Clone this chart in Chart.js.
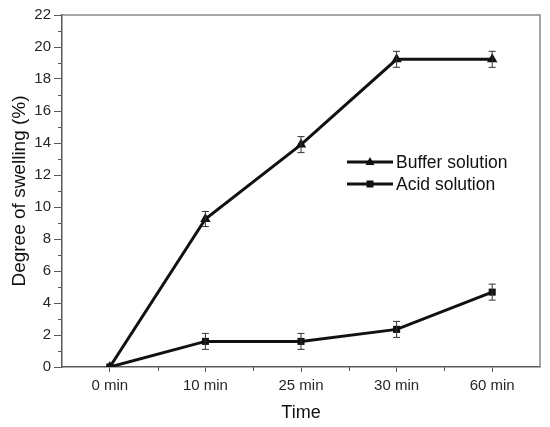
<!DOCTYPE html>
<html>
<head>
<meta charset="utf-8">
<script src="https://cdn.jsdelivr.net/npm/chart.js@4.4.1/dist/chart.umd.min.js"></script>
<style>
    html, body { margin: 0; padding: 0; background: #fff; }
    #wrap { width: 550px; height: 427px; }
</style>
</head>
<body>
<div id="wrap"><canvas id="swellChart" width="550" height="427"></canvas></div>
<script>
// values
const timeLabels = ['0 min', '10 min', '25 min', '30 min', '60 min'];
const bufferValues = [0, 9.25, 13.9, 19.23, 19.23];
const bufferErrors = [0, 0.47, 0.5, 0.5, 0.5];
const acidValues = [0, 1.6, 1.6, 2.35, 4.68];
const acidErrors = [0, 0.5, 0.5, 0.5, 0.5];
const yTicks = [0, 2, 4, 6, 8, 10, 12, 14, 16, 18, 20, 22];

const FONT = '"Liberation Sans", Arial, sans-serif';
const INK = '#111';
const AXIS = '#5a5a5a';

// error bars, frame, minor ticks
const decorPlugin = {
    id: 'decor',
    afterDatasetsDraw(chart) {
        const ctx = chart.ctx;
        const y = chart.scales.y;
        const errs = [bufferErrors, acidErrors];
        ctx.save();
        ctx.strokeStyle = '#333';
        ctx.lineWidth = 1;
        chart.data.datasets.forEach((ds, di) => {
            const meta = chart.getDatasetMeta(di);
            meta.data.forEach((pt, i) => {
                const e = errs[di][i];
                if (!e) return;
                const top = y.getPixelForValue(ds.data[i] + e);
                const bot = y.getPixelForValue(ds.data[i] - e);
                ctx.beginPath();
                ctx.moveTo(pt.x, top); ctx.lineTo(pt.x, bot);
                ctx.moveTo(pt.x - 3.5, top); ctx.lineTo(pt.x + 3.5, top);
                ctx.moveTo(pt.x - 3.5, bot); ctx.lineTo(pt.x + 3.5, bot);
                ctx.stroke();
            });
        });
        ctx.restore();
    },
    afterDraw(chart) {
        const ctx = chart.ctx;
        const a = chart.chartArea;
        const x = chart.scales.x;
        const y = chart.scales.y;
        ctx.save();
        // top and right frame
        ctx.strokeStyle = '#8a8a8a';
        ctx.lineWidth = 1.5;
        ctx.beginPath();
        ctx.moveTo(a.left, a.top);
        ctx.lineTo(a.right, a.top);
        ctx.lineTo(a.right, a.bottom);
        ctx.stroke();
        // minor ticks
        ctx.strokeStyle = AXIS;
        ctx.lineWidth = 1;
        ctx.beginPath();
        for (let v = 1; v < 22; v += 2) {
            const py = Math.round(y.getPixelForValue(v)) + 0.5;
            ctx.moveTo(a.left - 4, py); ctx.lineTo(a.left, py);
        }
        for (let i = 0; i < timeLabels.length - 1; i++) {
            const px = Math.round((x.getPixelForValue(i) + x.getPixelForValue(i + 1)) / 2) + 0.5;
            ctx.moveTo(px, a.bottom); ctx.lineTo(px, a.bottom + 4);
        }
        ctx.stroke();
        // legend inside the plot
        const rows = [
            { label: chart.data.datasets[0].label, style: 'tri', y: a.top + 147 },
            { label: chart.data.datasets[1].label, style: 'sq', y: a.top + 169 }
        ];
        const x0 = a.left + 285, x1 = a.left + 331;
        rows.forEach(r => {
            ctx.strokeStyle = INK;
            ctx.lineWidth = 3;
            ctx.beginPath();
            ctx.moveTo(x0, r.y); ctx.lineTo(x1, r.y);
            ctx.stroke();
            const cx = (x0 + x1) / 2;
            ctx.fillStyle = INK;
            ctx.beginPath();
            if (r.style === 'tri') {
                ctx.moveTo(cx, r.y - 5); ctx.lineTo(cx + 4.5, r.y + 3); ctx.lineTo(cx - 4.5, r.y + 3);
                ctx.closePath(); ctx.fill();
            } else {
                ctx.fillRect(cx - 3.5, r.y - 3.5, 7, 7);
            }
            ctx.font = '17.5px ' + FONT;
            ctx.textBaseline = 'middle';
            ctx.textAlign = 'left';
            ctx.fillText(r.label, x1 + 3, r.y + 1);
        });
        ctx.restore();
    }
};

new Chart(document.getElementById('swellChart'), {
    type: 'line',
    data: {
        labels: timeLabels,
        datasets: [
            {
                label: 'Buffer solution',
                data: bufferValues,
                borderColor: INK,
                backgroundColor: INK,
                borderWidth: 3,
                pointStyle: 'triangle',
                pointRadius: 6,
                pointBorderWidth: 0,
                tension: 0
            },
            {
                label: 'Acid solution',
                data: acidValues,
                borderColor: INK,
                backgroundColor: INK,
                borderWidth: 3,
                pointStyle: 'rect',
                pointRadius: 5,
                pointBorderWidth: 0,
                tension: 0
            }
        ]
    },
    options: {
        responsive: false,
        animation: false,
        layout: {
            padding: { left: 0, right: 10, top: 15, bottom: 0 }
        },
        plugins: {
            legend: { display: false },
            tooltip: { enabled: false }
        },
        scales: {
            x: {
                type: 'category',
                offset: true,
                grid: {
                    offset: false,
                    drawOnChartArea: false,
                    tickLength: 5,
                    tickColor: AXIS
                },
                border: { color: AXIS, width: 1.5 },
                ticks: {
                    color: '#262626',
                    padding: 5,
                    font: { family: FONT, size: 15 }
                },
                title: {
                    display: true,
                    text: 'Time',
                    color: INK,
                    padding: { top: 0, bottom: 3 },
                    font: { family: FONT, size: 18 }
                },
                afterFit(scale) { scale.height = 60; }
            },
            y: {
                min: 0,
                max: 22,
                afterBuildTicks(scale) {
                    scale.ticks = yTicks.map(v => ({ value: v }));
                },
                grid: {
                    drawOnChartArea: false,
                    tickLength: 8,
                    tickColor: AXIS
                },
                border: { color: AXIS, width: 1.5 },
                ticks: {
                    color: '#262626',
                    padding: 3,
                    font: { family: FONT, size: 15 }
                },
                title: {
                    display: true,
                    text: 'Degree of swelling (%)',
                    color: INK,
                    padding: { top: 8, bottom: 0 },
                    font: { family: FONT, size: 19 }
                },
                afterFit(scale) { scale.width = 62; }
            }
        }
    },
    plugins: [decorPlugin]
});
</script>
</body>
</html>
